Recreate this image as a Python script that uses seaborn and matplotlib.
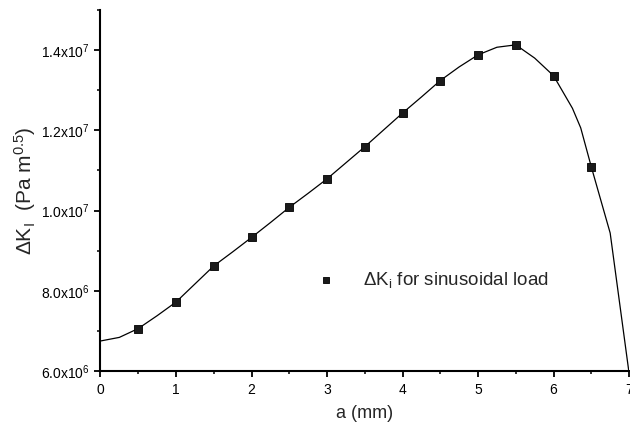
import matplotlib
matplotlib.use("Agg")
import matplotlib.pyplot as plt
import seaborn as sns
import pandas as pd
from matplotlib.ticker import MultipleLocator, FixedLocator

# ---- data ----
marker_a = [0.5, 1.0, 1.5, 2.0, 2.5, 3.0, 3.5, 4.0, 4.5, 5.0, 5.5, 6.0, 6.5]
marker_dk = [7.06e6, 7.72e6, 8.62e6, 9.33e6, 1.008e7, 1.079e7, 1.159e7,
             1.243e7, 1.324e7, 1.388e7, 1.413e7, 1.336e7, 1.109e7]

curve_a = [0.0, 0.25, 0.5, 0.75, 1.0, 1.25, 1.5, 1.75, 2.0, 2.25, 2.5, 2.75,
           3.0, 3.25, 3.5, 3.75, 4.0, 4.25, 4.5, 4.75, 5.0, 5.25, 5.5, 5.75,
           6.0, 6.25, 6.36, 6.5, 6.75, 7.0]
curve_dk = [6.75e6, 6.84e6, 7.06e6, 7.38e6, 7.72e6, 8.17e6, 8.62e6, 8.97e6,
            9.33e6, 9.70e6, 1.008e7, 1.043e7, 1.079e7, 1.119e7, 1.159e7,
            1.201e7, 1.243e7, 1.283e7, 1.324e7, 1.358e7, 1.388e7, 1.407e7,
            1.413e7, 1.380e7, 1.336e7, 1.255e7, 1.206e7, 1.109e7, 9.44e6, 5.95e6]

x_ticks = [0, 1, 2, 3, 4, 5, 6, 7]
y_ticks = [6.0e6, 8.0e6, 1.0e7, 1.2e7, 1.4e7]
y_tick_labels = [r"$\mathregular{6.0x10^{6}}$", r"$\mathregular{8.0x10^{6}}$",
                 r"$\mathregular{1.0x10^{7}}$", r"$\mathregular{1.2x10^{7}}$",
                 r"$\mathregular{1.4x10^{7}}$"]
legend_label = r"$\mathregular{\Delta K_{i}}$ for sinusoidal load"
x_label = "a (mm)"
y_label = r"$\mathregular{\Delta K_{I}\ \ (Pa\ m^{0.5})}$"

sns.set_style("ticks")
plt.rcParams["font.family"] = ["Liberation Sans", "DejaVu Sans"]
plt.rcParams["mathtext.fontset"] = "custom"
plt.rcParams["mathtext.rm"] = "Liberation Sans"
plt.rcParams["mathtext.it"] = "Liberation Sans:italic"
plt.rcParams["mathtext.bf"] = "Liberation Sans:bold"

fig = plt.figure(figsize=(6.3, 4.32), dpi=100)
ax = fig.add_axes([0.1595, 0.141, 0.839, 0.836])

curve_df = pd.DataFrame({"a": curve_a, "dk": curve_dk})
marker_df = pd.DataFrame({"a": marker_a, "dk": marker_dk})

sns.lineplot(data=curve_df, x="a", y="dk", ax=ax, color="black", linewidth=0.9,
             sort=False, legend=False, clip_on=True)
sns.scatterplot(data=marker_df, x="a", y="dk", ax=ax, marker="s", s=30,
                color="#1a1a1a", edgecolor="black", linewidth=0.6,
                label=legend_label, zorder=3)

ax.set_xlim(0, 7)
ax.set_ylim(6.0e6, 1.5e7)
ax.xaxis.set_major_locator(FixedLocator(x_ticks))
ax.xaxis.set_minor_locator(MultipleLocator(0.5))
ax.set_yticks(y_ticks)
ax.set_yticklabels(y_tick_labels)
ax.yaxis.set_minor_locator(MultipleLocator(1.0e6))

ax.tick_params(axis="both", which="major", direction="out", length=4.5, width=1.3,
               labelsize=10, color="black", labelcolor="black")
ax.tick_params(axis="both", which="minor", direction="out", length=2.5, width=1.1,
               color="black")
ax.tick_params(axis="x", pad=4)

for side in ["left", "bottom"]:
    ax.spines[side].set_linewidth(1.5)
    ax.spines[side].set_color("black")
sns.despine(ax=ax)

ax.set_xlabel(x_label, fontsize=13, labelpad=6)
ax.set_ylabel(y_label, fontsize=15, labelpad=2)

leg = ax.legend(loc="center left", bbox_to_anchor=(0.408, 0.252), frameon=False,
                fontsize=13.5, handlelength=1.0, handletextpad=1.5, borderpad=0,
                borderaxespad=0, markerscale=0.85)

fig.savefig("out.png", dpi=100)
